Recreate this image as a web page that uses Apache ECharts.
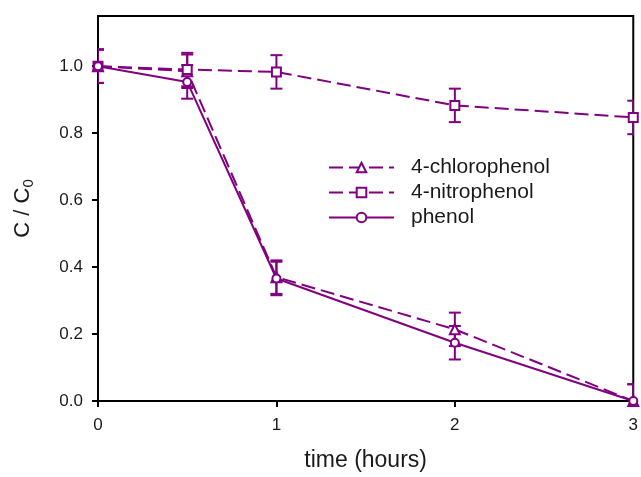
<!DOCTYPE html>
<html>
<head>
<meta charset="utf-8">
<script src="https://cdn.jsdelivr.net/npm/echarts@6/dist/echarts.min.js"></script>
<style>
html,body{margin:0;padding:0;background:#fff;}
#chart{width:641px;height:477px;}
</style>
</head>
<body>
<div id="chart"></div>
<script>
// ---- data ----
const timeHours = [0, 0.5, 1, 2, 3];
const seriesNames = ['4-chlorophenol', '4-nitrophenol', 'phenol'];
const chlorophenol = [1.0, 0.985, 0.370, 0.214, 0.0];
const nitrophenol = [1.0, 0.990, 0.983, 0.883, 0.847];
const phenol = [1.0, 0.953, 0.366, 0.174, 0.0];
const chlorophenolErr = [0.05, 0.05, 0.05, 0.05, 0.05];
const nitrophenolErr = [0.05, 0.05, 0.05, 0.05, 0.05];
const phenolErr = [0.05, 0.05, 0.05, 0.05, 0.05];
const xTicks = [0, 1, 2, 3];
const yTicks = [0, 0.2, 0.4, 0.6, 0.8, 1.0];

const PURPLE = '#800080';
const FONT = 'Liberation Sans';

function pairs(vals) { return timeHours.map((t, i) => [t, vals[i]]); }
function errData(vals, errs) { return timeHours.map((t, i) => [t, vals[i] - errs[i], vals[i] + errs[i]]); }

function errSeries(vals, errs) {
  return {
    type: 'custom',
    data: errData(vals, errs),
    clip: true,
    z: 1,
    silent: true,
    renderItem: function (params, api) {
      const x = api.value(0);
      const lo = api.coord([x, api.value(1)]);
      const hi = api.coord([x, api.value(2)]);
      const w = 6;
      const style = { stroke: PURPLE, lineWidth: 2, fill: null };
      return {
        type: 'group',
        children: [
          { type: 'line', shape: { x1: lo[0], y1: lo[1], x2: hi[0], y2: hi[1] }, style: style },
          { type: 'line', shape: { x1: lo[0] - w, y1: lo[1], x2: lo[0] + w, y2: lo[1] }, style: style },
          { type: 'line', shape: { x1: hi[0] - w, y1: hi[1], x2: hi[0] + w, y2: hi[1] }, style: style }
        ]
      };
    }
  };
}

function lineSeries(name, vals, symbol, size, dashed) {
  return {
    name: name,
    type: 'line',
    data: pairs(vals),
    symbol: symbol,
    symbolSize: size,
    showAllSymbol: true,
    z: 3,
    lineStyle: { color: PURPLE, width: 2, type: dashed ? [14, 6] : 'solid' },
    itemStyle: { color: '#fff', borderColor: PURPLE, borderWidth: 2 },
    emphasis: { disabled: true },
    animation: false
  };
}

const chart = echarts.init(document.getElementById('chart'));
chart.setOption({
  animation: false,
  backgroundColor: '#fff',
  textStyle: { fontFamily: FONT },
  grid: {
    left: 98, top: 16, right: 5, bottom: 76,
    show: true, borderColor: '#000', borderWidth: 2, backgroundColor: 'transparent'
  },
  legend: {
    orient: 'vertical',
    left: 328, top: 157, padding: 0,
    itemWidth: 65, itemHeight: 12, itemGap: 4,
    data: seriesNames,
    textStyle: { fontFamily: FONT, fontSize: 21, color: '#1a1a1a', padding: [0, 0, 0, 12] },
    selectedMode: false
  },
  xAxis: {
    type: 'value', min: 0, max: 3, interval: 1,
    name: 'time (hours)', nameLocation: 'middle', nameGap: 48,
    nameTextStyle: { fontFamily: FONT, fontSize: 23, color: '#1a1a1a' },
    axisLine: { show: true, lineStyle: { color: '#000', width: 2 } },
    axisTick: { show: true, inside: false, length: 6, lineStyle: { color: '#000', width: 2 }, customValues: xTicks },
    axisLabel: { fontFamily: FONT, fontSize: 17, color: '#1a1a1a', margin: 16, customValues: xTicks },
    splitLine: { show: false }
  },
  yAxis: {
    type: 'value', min: 0, max: 1.15,
    name: '{a|C / C}{b|0}', nameLocation: 'middle', nameGap: 62, nameRotate: 90,
    nameTextStyle: {
      fontFamily: FONT, fontSize: 22, color: '#1a1a1a',
      rich: {
        a: { fontFamily: FONT, fontSize: 22, color: '#1a1a1a' },
        b: { fontFamily: FONT, fontSize: 15, color: '#1a1a1a', padding: [12, 0, 0, 0] }
      }
    },
    axisLine: { show: true, lineStyle: { color: '#000', width: 2 } },
    axisTick: { show: true, inside: false, length: 6, lineStyle: { color: '#000', width: 2 }, customValues: yTicks },
    axisLabel: { fontFamily: FONT, fontSize: 17, color: '#1a1a1a', margin: 15, customValues: yTicks,
      formatter: function (v) { return v.toFixed(1); } },
    splitLine: { show: false }
  },
  series: [
    errSeries(chlorophenol, chlorophenolErr),
    errSeries(nitrophenol, nitrophenolErr),
    errSeries(phenol, phenolErr),
    lineSeries(seriesNames[0], chlorophenol, 'triangle', 10, true),
    lineSeries(seriesNames[1], nitrophenol, 'rect', 9, true),
    lineSeries(seriesNames[2], phenol, 'circle', 8, false)
  ]
});
</script>
</body>
</html>
